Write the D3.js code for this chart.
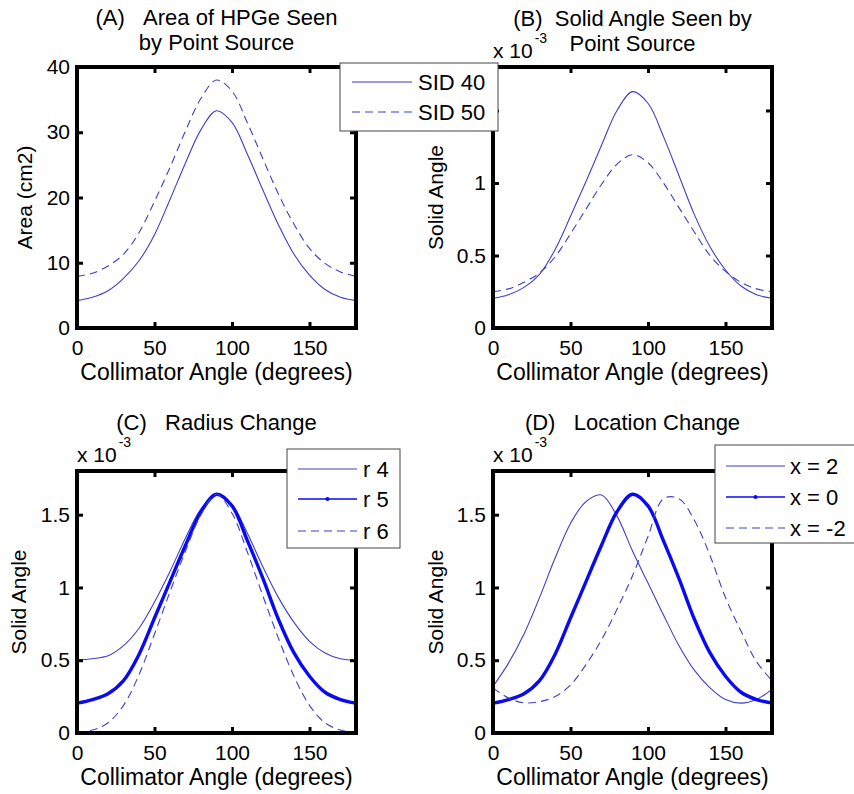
<!DOCTYPE html>
<html>
<head>
<meta charset="utf-8">
<script src="https://cdn.jsdelivr.net/npm/d3@7"></script>
<style>
  body { margin: 0; background: #fff; }
  svg { display: block; font-family: "Liberation Sans", Arial, Helvetica, sans-serif; }
  text { fill: #000; }
</style>
</head>
<body>
<svg id="chart" width="854" height="794"></svg>
<script>
// collimator angle samples (degrees)
const angles = [0, 10, 20, 30, 40, 50, 60, 70, 80, 90, 100, 110, 120, 130, 140, 150, 160, 170, 180];

// (A) area of HPGe seen, cm2
const areaSid40 = [4.2, 4.7, 5.7, 7.6, 10.3, 14.3, 19.7, 25.3, 30.4, 33.3, 31.5, 26.6, 21.1, 15.8, 11.3, 8.1, 5.9, 4.7, 4.2];
const areaSid50 = [7.9, 8.4, 9.5, 11.3, 14.6, 19.4, 24.6, 30.2, 35.2, 38.0, 36.3, 31.4, 25.9, 20.5, 15.9, 12.2, 9.9, 8.6, 7.9];

// (B) solid angle, x 10^-3
const solidSid40 = [0.205, 0.23, 0.28, 0.37, 0.54, 0.77, 1.01, 1.26, 1.50, 1.63, 1.55, 1.32, 1.05, 0.78, 0.56, 0.40, 0.29, 0.23, 0.205];
const solidSid50 = [0.25, 0.27, 0.315, 0.38, 0.49, 0.65, 0.82, 0.99, 1.13, 1.195, 1.14, 1.00, 0.83, 0.66, 0.50, 0.39, 0.315, 0.27, 0.25];

// (C) radius change, x 10^-3
const radius4 = [0.50, 0.51, 0.53, 0.60, 0.72, 0.90, 1.11, 1.34, 1.54, 1.64, 1.57, 1.37, 1.14, 0.93, 0.76, 0.63, 0.55, 0.51, 0.50];
const radius5 = [0.205, 0.23, 0.27, 0.36, 0.54, 0.79, 1.04, 1.29, 1.52, 1.64, 1.56, 1.32, 1.06, 0.78, 0.55, 0.39, 0.28, 0.23, 0.205];
const radius6 = [0.0, 0.02, 0.07, 0.19, 0.40, 0.68, 0.97, 1.25, 1.50, 1.64, 1.51, 1.24, 0.94, 0.65, 0.39, 0.19, 0.07, 0.02, 0.0];

// (D) location change, x 10^-3
const locPlus2 = [0.32, 0.48, 0.68, 0.93, 1.20, 1.44, 1.59, 1.635, 1.49, 1.25, 1.03, 0.81, 0.60, 0.43, 0.31, 0.23, 0.205, 0.23, 0.30];
const locZero = radius5.slice();
const locMinus2 = [0.31, 0.24, 0.207, 0.215, 0.25, 0.33, 0.47, 0.64, 0.85, 1.08, 1.35, 1.61, 1.61, 1.46, 1.22, 0.93, 0.70, 0.49, 0.36];

const angleTicks = [0, 50, 100, 150];
const areaTicks = [0, 10, 20, 30, 40];
const solidTicks = [0, 0.5, 1, 1.5];

const font = 21;
const thinBlue = '#3f3fc8';
const thickBlue = '#0a0af2';

const svg = d3.select('#chart');

const panels = [
	{box: [77, 67, 356, 328], ymax: 40, yticks: areaTicks, ylabel: 'Area (cm2)', ylabelX: 25,
	 title: ['(A)\u00A0\u00A0\u00A0Area of HPGe Seen', 'by Point Source'], titleY: 25, mult: false,
	 series: [{v: areaSid40, name: 'SID 40', style: 'thin'}, {v: areaSid50, name: 'SID 50', style: 'dash'}],
	 legend: {x: 340, y: 63, w: 158, h: 68, rows: [82, 112], lx: [352, 412], tx: 418}},
	// the 1.5 label of (B) sits behind the (A) legend
	{box: [493, 67, 772, 328], ymax: 1.8, yticks: solidTicks, hidden: [1.5], ylabel: 'Solid Angle', ylabelX: 436,
	 title: ['(B)\u00A0\u00A0Solid Angle Seen by', 'Point Source'], titleY: 26, mult: true,
	 series: [{v: solidSid40, style: 'thin'}, {v: solidSid50, style: 'dash'}]},
	{box: [77, 471, 356, 733], ymax: 1.8, yticks: solidTicks, ylabel: 'Solid Angle', ylabelX: 19,
	 title: ['(C)\u00A0\u00A0\u00A0Radius Change'], titleY: 430, mult: true,
	 series: [{v: radius4, name: 'r 4', style: 'thin'}, {v: radius5, name: 'r 5', style: 'thick'}, {v: radius6, name: 'r 6', style: 'dash'}],
	 legend: {x: 287, y: 449, w: 113, h: 99, rows: [469, 499, 531], lx: [298, 357], tx: 363}},
	{box: [493, 471, 772, 733], ymax: 1.8, yticks: solidTicks, ylabel: 'Solid Angle', ylabelX: 436,
	 title: ['(D)\u00A0\u00A0\u00A0Location Change'], titleY: 430, mult: true,
	 series: [{v: locPlus2, name: 'x = 2', style: 'thin'}, {v: locZero, name: 'x = 0', style: 'thick'}, {v: locMinus2, name: 'x = -2', style: 'dash'}],
	 legend: {x: 715, y: 445, w: 160, h: 98, rows: [466, 497, 528], lx: [726, 785], tx: 790}}
];

function styleLine(sel, style){
	if (style === 'thick') {
		sel.style('stroke', thickBlue).style('stroke-width', 3.4)
	} else {
		sel.style('stroke', thinBlue).style('stroke-width', 1.1)
		if (style === 'dash') sel.style('stroke-dasharray', '8,5')
	}
	return sel.style('fill', 'none')
}

function drawPanel(p){
	const [x0, y0, x1, y1] = p.box;
	const x = d3.scaleLinear().domain([0, 180]).range([x0, x1]);
	const y = d3.scaleLinear().domain([0, p.ymax]).range([y1, y0]);
	const g = svg.append('g');
	const hidden = p.hidden || [];

	// curves
	p.series.forEach(function(s){
		const line = d3.line()
			.x(function(d, i){ return x(angles[i]) })
			.y(function(d){ return y(d) })
			.curve(d3.curveCatmullRom.alpha(0.5));
		styleLine(g.append('path').attr('d', line(s.v)), s.style);
	});

	// axes with inward ticks
	const fmt = function(d){ return d3.format('~g')(d) };
	const yfmt = function(d){ return hidden.indexOf(d) >= 0 ? '' : fmt(d) };
	const bottom = g.append('g').attr('transform', 'translate(0,' + y1 + ')')
		.call(d3.axisBottom(x).tickValues(angleTicks).tickSize(-6).tickPadding(12).tickFormat(fmt));
	const top = g.append('g').attr('transform', 'translate(0,' + y0 + ')')
		.call(d3.axisTop(x).tickValues(angleTicks).tickSize(-6).tickFormat(''));
	const left = g.append('g').attr('transform', 'translate(' + x0 + ',0)')
		.call(d3.axisLeft(y).tickValues(p.yticks).tickSize(-6).tickPadding(7).tickFormat(yfmt));
	const right = g.append('g').attr('transform', 'translate(' + x1 + ',0)')
		.call(d3.axisRight(y).tickValues(p.yticks).tickSize(-6).tickFormat(''));
	[bottom, top, left, right].forEach(function(a){
		a.select('.domain').remove();
		a.selectAll('line').style('stroke', '#000').style('stroke-width', 3);
		a.selectAll('text').style('font-size', font + 'px').style('font-family', 'inherit').style('fill', '#000');
	});

	g.append('rect')
		.attr('x', x0).attr('y', y0)
		.attr('width', x1 - x0).attr('height', y1 - y0)
		.style('fill', 'none').style('stroke', '#000').style('stroke-width', 4);

	// titles and labels
	const cx = (x0 + x1) / 2;
	p.title.forEach(function(t, i){
		g.append('text').attr('x', cx).attr('y', p.titleY + i * 25)
			.style('text-anchor', 'middle').style('font-size', '22px').text(t);
	});
	g.append('text').attr('x', cx).attr('y', y1 + 52)
		.style('text-anchor', 'middle').style('font-size', '23px').text('Collimator Angle (degrees)');
	g.append('text')
		.attr('transform', 'translate(' + p.ylabelX + ',' + ((y0 + y1) / 2) + ') rotate(-90)')
		.attr('dy', '0.35em')
		.style('text-anchor', 'middle').style('font-size', font + 'px').text(p.ylabel);

	if (p.mult) {
		const m = g.append('text').attr('x', x0).attr('y', y0 - 9).style('font-size', font + 'px');
		m.append('tspan').text('x 10');
		m.append('tspan').attr('dy', -15).attr('dx', 2).style('font-size', '14px').text('-3');
	}
}

function drawLegend(p){
	const L = p.legend;
	const g = svg.append('g');
	g.append('rect').attr('x', L.x).attr('y', L.y).attr('width', L.w).attr('height', L.h)
		.style('fill', '#fff').style('stroke', '#444').style('stroke-width', 1);
	p.series.forEach(function(s, i){
		const ry = L.rows[i];
		styleLine(g.append('line').attr('x1', L.lx[0]).attr('x2', L.lx[1]).attr('y1', ry).attr('y2', ry), s.style)
			.style('stroke-width', s.style === 'thick' ? 1.3 : 1.1);
		if (s.style === 'thick') {
			g.append('circle').attr('cx', (L.lx[0] + L.lx[1]) / 2).attr('cy', ry).attr('r', 2)
				.style('fill', thickBlue);
		}
		g.append('text').attr('x', L.tx).attr('y', ry).attr('dy', '0.36em')
			.style('font-size', '22px').text(s.name);
	});
}

panels.forEach(drawPanel);
panels.filter(function(p){ return p.legend }).forEach(drawLegend);
</script>
</body>
</html>
